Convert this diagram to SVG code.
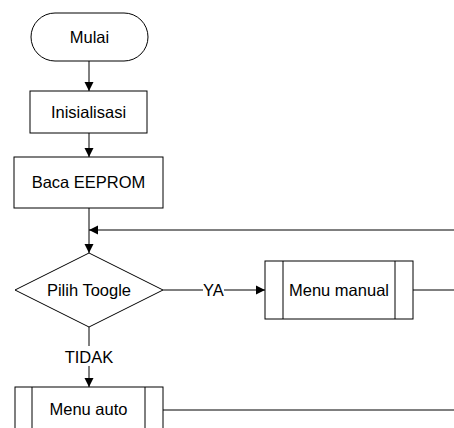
<svg xmlns="http://www.w3.org/2000/svg" width="454" height="428" viewBox="0 0 454 428">
<style>
.s{fill:#fff;stroke:#000;stroke-width:1}
.t{font-family:"Liberation Sans",Arial,sans-serif;font-size:16.5px;fill:#000;text-anchor:middle}
.c{fill:none;stroke:#000;stroke-width:1}
</style>
<defs>
<marker id="a" markerWidth="10" markerHeight="10" refX="9" refY="5" orient="auto" markerUnits="userSpaceOnUse">
<path d="M0,0.5 L9,5 L0,9.5 Z" fill="#000"/>
</marker>
</defs>
<rect width="454" height="428" fill="#fff"/>
<g id="connectors">
<path class="c" d="M89,61 V91" marker-end="url(#a)"/>
<path class="c" d="M89,133 V157" marker-end="url(#a)"/>
<path class="c" d="M89,208 V253" marker-end="url(#a)"/>
<path class="c" d="M454,230 H89" marker-end="url(#a)"/>
<path class="c" d="M163,290 H203"/>
<path class="c" d="M224,290 H265" marker-end="url(#a)"/>
<path class="c" d="M413,290 H454"/>
<path class="c" d="M89,327 V346"/>
<path class="c" d="M89,366 V387" marker-end="url(#a)"/>
<path class="c" d="M163,410 H454"/>
<text class="t" x="213.5" y="296">YA</text>
<text class="t" x="89" y="363">TIDAK</text>
</g>
<g id="mulai">
<rect class="s" x="31" y="13" width="117" height="48" rx="24" ry="24"/>
<text class="t" x="89.5" y="43">Mulai</text>
</g>
<g id="inisialisasi">
<rect class="s" x="30" y="91" width="117" height="42"/>
<text class="t" x="88.5" y="118">Inisialisasi</text>
</g>
<g id="baca">
<rect class="s" x="14" y="157" width="149" height="51"/>
<text class="t" x="88.5" y="188">Baca EEPROM</text>
</g>
<g id="pilih">
<path class="s" d="M89,253 L163,290 L89,327 L15,290 Z"/>
<text class="t" x="89" y="296">Pilih Toogle</text>
</g>
<g id="manual">
<rect class="s" x="265" y="261" width="148" height="58"/>
<path class="c" d="M283,261 V319 M395,261 V319"/>
<text class="t" x="339" y="296">Menu manual</text>
</g>
<g id="auto">
<rect class="s" x="15" y="387" width="148" height="58"/>
<path class="c" d="M32,387 V445 M145,387 V445"/>
<text class="t" x="88.5" y="415">Menu auto</text>
</g>
</svg>
